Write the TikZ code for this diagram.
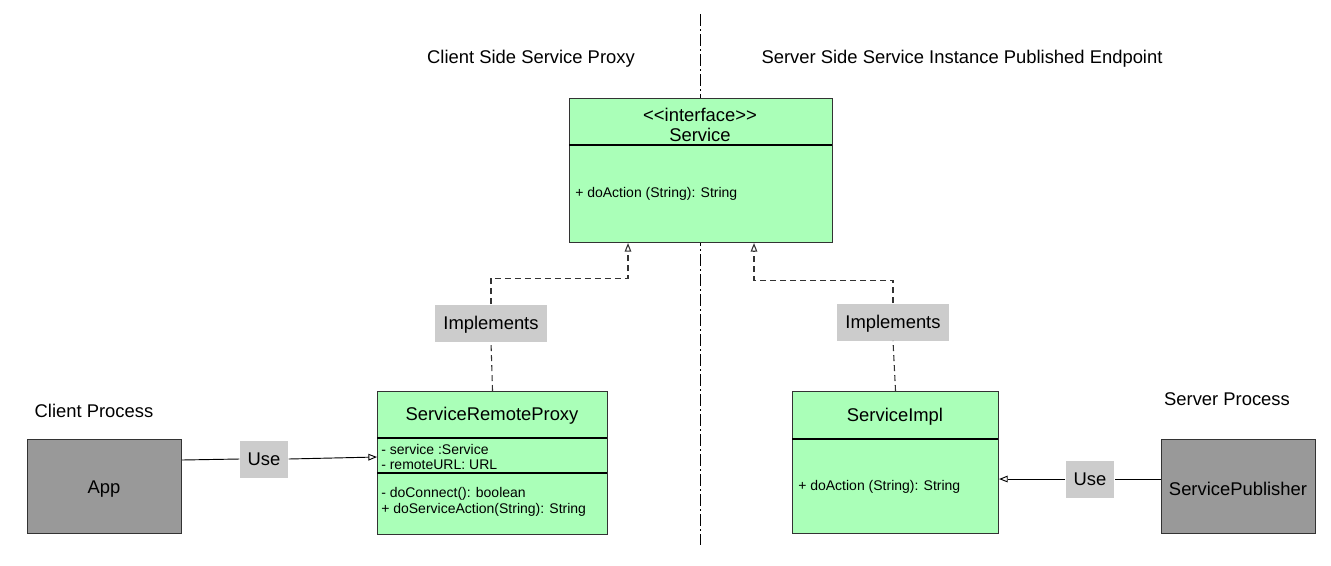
\documentclass[tikz,border=0pt]{standalone}
\usepackage{fontspec}
\setmainfont{Liberation Sans}
\usetikzlibrary{arrows.meta,calc}
\definecolor{umlgreen}{HTML}{AAFFB8}
\definecolor{procgray}{HTML}{999999}
\definecolor{lblgray}{HTML}{CCCCCC}
\definecolor{edgegray}{HTML}{333333}
\newcommand{\bigf}{\fontsize{13.8}{16.5}\selectfont}
\newcommand{\smallf}{\fontsize{10.5}{12}\selectfont}
\tikzset{
  umlbox/.style={draw=edgegray, line width=0.8pt, fill=umlgreen, anchor=north west, inner sep=0pt},
  procbox/.style={draw=edgegray, line width=0.8pt, fill=procgray, anchor=north west, inner sep=0pt, font=\bigf},
  lbl/.style={fill=lblgray, inner xsep=6pt, inner ysep=0pt, minimum height={37*0.75pt}, text height=1.0em, text depth=0.08em, font=\bigf},
  title/.style={font=\bigf, inner sep=0pt},
  member/.style={font=\smallf, anchor=west, inner sep=0pt},
  sepline/.style={draw=black, line width=0.8pt},
  usearrow/.style={draw=black, line width=0.7pt},
  impl/.style={draw=edgegray, line width=0.8pt, dash pattern=on 4.5pt off 3pt},
  tip/.style={-{Triangle[open, length=6.5pt, width=5pt]}},
}
\begin{document}
\begin{tikzpicture}[x=0.75pt, y=-0.75pt]
\useasboundingbox (0,0) rectangle (1331,565);

% divider
\draw[black, line width=0.7pt, dash pattern=on 9pt off 2.5pt on 1pt off 2.5pt] (700,14) -- (700,545);

% headings
\node[title] (hclient) at (531,59) {Client Side Service Proxy};
\node[title] (hserver) at (962,59) {Server Side Service Instance Published Endpoint};
\node[title] (hcp) at (94,411) {Client Process};
\node[title] (hsp) at (1227,399) {Server Process};

% Service interface
\node[umlbox, minimum width={263*0.75pt}, minimum height={144*0.75pt}] (svc) at (569,98) {};
\draw[sepline] (569,145) -- (832,145);
\node[title, align=center] (svct) at (700,125) {<{}<interface>{}>\\[-1pt]Service};
\node[member] (svcm) at (575,194) {+ doAction (String): String};

% ServiceRemoteProxy
\node[umlbox, minimum width={230*0.75pt}, minimum height={143*0.75pt}] (proxy) at (377,391) {};
\draw[sepline] (377,438) -- (607,438);
\draw[sepline] (377,473) -- (607,473);
\node[title] (proxyt) at (492,416) {ServiceRemoteProxy};
\node[member] (pa1) at (381,449) {- service :Service};
\node[member] (pa2) at (381,465) {- remoteURL: URL};
\node[member] (pm1) at (381,494) {- doConnect(): boolean};
\node[member] (pm2) at (381,510) {+ doServiceAction(String): String};

% ServiceImpl
\node[umlbox, minimum width={206*0.75pt}, minimum height={142*0.75pt}] (impl) at (792,391) {};
\draw[sepline] (792,439) -- (998,439);
\node[title] (implt) at (895,417) {ServiceImpl};
\node[member] (implm) at (798,487) {+ doAction (String): String};

% processes
\node[procbox, minimum width={154*0.75pt}, minimum height={94*0.75pt}] (app) at (27,439) {};
\node[title] (appt) at (104,489) {App};
\node[procbox, minimum width={154*0.75pt}, minimum height={94*0.75pt}] (pub) at (1161,439) {};
\node[title] (pubt) at (1238,489) {ServicePublisher};

% Implements connectors
\node[lbl] (impl1) at (491,323) {Implements};
\node[lbl] (impl2) at (893,322) {Implements};
\draw[impl] (proxy.north) -- (impl1.south);
\draw[impl, tip] (impl1.north) |- ($(svc.south west)+(59,35)$) -- ($(svc.south west)+(59,0)$);
\draw[impl] (impl.north) -- (impl2.south);
\draw[impl, tip] (impl2.north) |- ($(svc.south west)+(185,37)$) -- ($(svc.south west)+(185,0)$);

% Use connectors
\node[lbl] (use1) at (264,459) {Use};
\node[lbl] (use2) at (1090,479) {Use};
\draw[usearrow] ($(app.north east)+(0,21)$) -- (use1.west);
\draw[usearrow, tip] (use1.east) -- ($(proxy.north west)+(0,66)$);
\draw[usearrow] ($(pub.north west)+(0,40)$) -- (use2.east);
\draw[usearrow, tip] (use2.west) -- ($(impl.north east)+(0,88)$);
\end{tikzpicture}
\end{document}
